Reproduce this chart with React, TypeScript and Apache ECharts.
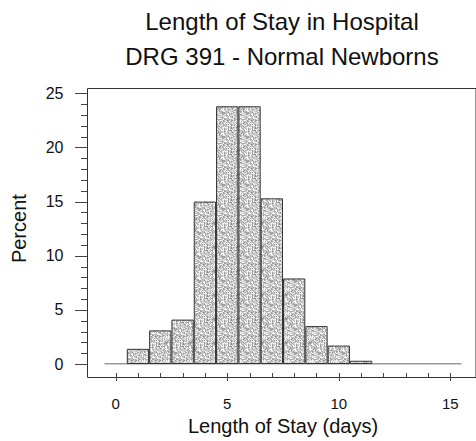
import React, { useEffect, useRef } from "react";
import * as echarts from "echarts";

const titleLines = ["Length of Stay in Hospital", "DRG 391 - Normal Newborns"];
const xAxisName = "Length of Stay (days)";
const yAxisName = "Percent";
const days = [1, 2, 3, 4, 5, 6, 7, 8, 9, 10, 11];
const percents = [1.4, 3.1, 4.1, 15.0, 23.8, 23.8, 15.3, 7.9, 3.5, 1.7, 0.3];
const baselineRange = [-0.5, 15.5];
const xTicks = [0, 1, 2, 3, 4, 5, 6, 7, 8, 9, 10, 11, 12, 13, 14, 15];
const yTicks = [0, 1, 2, 3, 4, 5, 6, 7, 8, 9, 10, 11, 12, 13, 14, 15, 16, 17, 18, 19, 20, 21, 22, 23, 24, 25];

const FONT = "'Liberation Sans', Arial, Helvetica, sans-serif";

function makeStipple(): HTMLCanvasElement {
  const size = 24;
  const c = document.createElement("canvas");
  c.width = size;
  c.height = size;
  const ctx = c.getContext("2d")!;
  const greys = ["#ffffff", "#dcdcdc", "#c4c4c4", "#a4a4a4", "#f0f0f0", "#b4b4b4", "#999999", "#d0d0d0"];
  let h = 12345;
  for (let y = 0; y < size; y++) {
    for (let x = 0; x < size; x++) {
      h = (h * 1103515245 + 12345) & 0x7fffffff;
      const g = greys[(h >> 16) % greys.length];
      ctx.fillStyle = g;
      ctx.fillRect(x, y, 1, 1);
    }
  }
  return c;
}

const TICK_COLOR = "#444";
const FRAME_LEFT = 87.5;

export default function App() {
  const ref = useRef<HTMLDivElement>(null);
  useEffect(() => {
    if (!ref.current) return;
    const chart = echarts.init(ref.current, undefined, { renderer: "svg" });
    const stipple = makeStipple();
    const hiddenAxis = (gridIndex: number) => ({ type: "value", gridIndex, show: false, min: 0, max: 1 });
    const titleGraphics = [
      {
        type: "text",
        x: 282,
        y: 21.5,
        style: { text: titleLines[0], font: `24px ${FONT}`, fill: "#111", align: "center", verticalAlign: "middle" },
      },
      {
        type: "text",
        x: 282,
        y: 56.5,
        style: { text: titleLines[1], font: `24px ${FONT}`, fill: "#111", align: "center", verticalAlign: "middle" },
      },
    ];
    const option: any = {
      animation: false,
      backgroundColor: "#ffffff",
      textStyle: { fontFamily: FONT },
      graphic: titleGraphics,
      grid: [
        { left: 104.5, right: 14.5, top: 93.3, bottom: 77, show: false },
        { left: FRAME_LEFT, right: -3, top: 88.5, bottom: 63.5, show: true, borderColor: "#333", borderWidth: 1, backgroundColor: "transparent" },
        { left: 115.7, right: 25.7, top: 93.3, bottom: 63.5, show: false },
        { left: FRAME_LEFT, right: 14.5, top: 93.3, bottom: 77, show: false },
      ],
      xAxis: [
        { type: "value", gridIndex: 0, show: false, min: baselineRange[0], max: baselineRange[1] },
        hiddenAxis(1),
        {
          type: "value",
          gridIndex: 2,
          min: 0,
          max: 15,
          interval: 5,
          position: "bottom",
          axisLine: { show: false },
          splitLine: { show: false },
          axisTick: { show: false },
          axisLabel: { margin: 23, fontSize: 15, color: "#111", fontFamily: FONT },
          name: xAxisName,
          nameLocation: "middle",
          nameGap: 34,
          nameTextStyle: { fontSize: 20, color: "#111", fontFamily: FONT },
        },
        hiddenAxis(3),
      ],
      yAxis: [
        { type: "value", gridIndex: 0, show: false, min: 0, max: 25 },
        hiddenAxis(1),
        hiddenAxis(2),
        {
          type: "value",
          gridIndex: 3,
          min: 0,
          max: 25,
          interval: 5,
          position: "left",
          axisLine: { show: false },
          splitLine: { show: false },
          axisTick: { show: false },
          axisLabel: { margin: 24, fontSize: 16, color: "#111", fontFamily: FONT },
          name: yAxisName,
          nameLocation: "middle",
          nameGap: 59,
          nameRotate: 90,
          nameTextStyle: { fontSize: 20, color: "#111", fontFamily: FONT },
        },
      ],
      series: [
        {
          type: "line",
          xAxisIndex: 0,
          yAxisIndex: 0,
          data: baselineRange.map((x) => [x, 0]),
          symbol: "none",
          lineStyle: { color: "#333", width: 1 },
          z: 1,
          silent: true,
        },
        {
          type: "bar",
          xAxisIndex: 0,
          yAxisIndex: 0,
          data: days.map((d, i) => [d, percents[i]]),
          barWidth: 22.3,
          itemStyle: {
            color: { image: stipple, repeat: "repeat", imageWidth: 24, imageHeight: 24 },
            borderColor: "#333",
            borderWidth: 1,
          },
          z: 2,
          silent: true,
        },
        {
          type: "custom",
          xAxisIndex: 2,
          yAxisIndex: 2,
          clip: false,
          silent: true,
          z: 5,
          data: xTicks.map((v) => [v, 0]),
          renderItem: (params: any, api: any) => {
            const v = api.value(0);
            const p = api.coord([v, 0]);
            const x = Math.round(p[0]) + 0.5;
            const y = Math.round(p[1]);
            const len = v % 5 === 0 ? 8 : 4;
            return {
              type: "line",
              shape: { x1: x, y1: y, x2: x, y2: y + len },
              style: { stroke: TICK_COLOR, lineWidth: 1 },
            };
          },
        },
      ],
    };
    chart.setOption(option);

    // y-axis ticks: positions come from the y scale of the data grid
    const tickLines = yTicks.map((v) => {
      const p = chart.convertToPixel({ gridIndex: 0 } as any, [1, v]) as number[];
      const y = Math.round(p[1]) + 0.5;
      const len = v % 5 === 0 ? 12 : 6;
      const x2 = FRAME_LEFT - 0.5;
      return {
        type: "line",
        z: 100,
        silent: true,
        shape: { x1: x2 - len, y1: y, x2: x2, y2: y },
        style: { stroke: TICK_COLOR, lineWidth: 1 },
      };
    });
    chart.setOption({ graphic: [...titleGraphics, ...tickLines] });

    return () => chart.dispose();
  }, []);
  return (
    <div
      ref={ref}
      style={{ position: "fixed", left: 0, top: 0, width: 476, height: 441, background: "#fff" }}
    />
  );
}
